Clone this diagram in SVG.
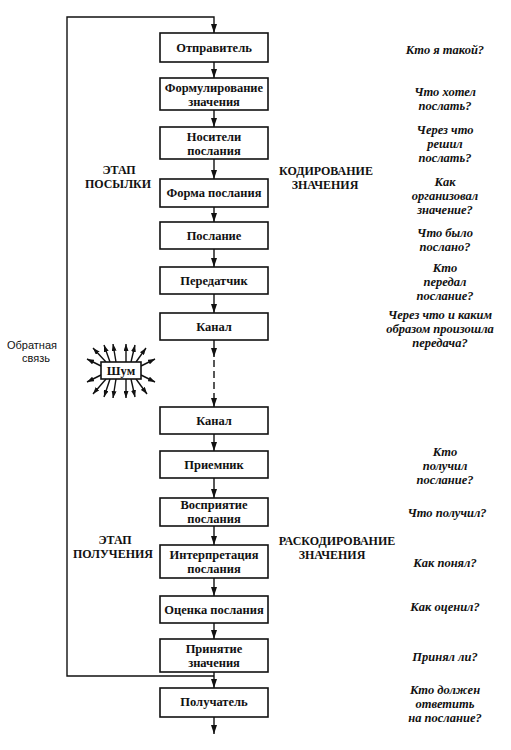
<svg xmlns="http://www.w3.org/2000/svg" width="511" height="750" viewBox="0 0 511 750">
<defs>
<style>
.box{fill:#fff;stroke:#111;stroke-width:1.6}
.ln{fill:none;stroke:#111;stroke-width:1.4}
.lbl{font-family:'Liberation Serif','Times New Roman','DejaVu Serif',serif;font-size:12.5px;font-weight:bold;text-anchor:middle;fill:#111}
.hd{font-family:'Liberation Serif','Times New Roman','DejaVu Serif',serif;font-size:12px;font-weight:bold;text-anchor:middle;fill:#111}
.q{font-family:'Liberation Serif','Times New Roman','DejaVu Serif',serif;font-size:12.5px;font-style:italic;font-weight:bold;text-anchor:middle;fill:#111}
.fb{font-family:'Liberation Sans',Arial,sans-serif;font-size:11px;text-anchor:middle;fill:#111}
</style>
<marker id="ah" viewBox="0 0 9 6" markerWidth="9" markerHeight="6" refX="9" refY="3" orient="auto" markerUnits="userSpaceOnUse"><path d="M0,0 L9,3 L0,6 z" fill="#111"/></marker>
<marker id="sh" viewBox="0 0 7 5" markerWidth="7" markerHeight="5" refX="7" refY="2.5" orient="auto" markerUnits="userSpaceOnUse"><path d="M0,0 L7,2.5 L0,5 z" fill="#111"/></marker>
</defs>

<g id="connectors">
<path class="ln" d="M214,676 L67,676 L67,17 L214,17 L214,33" marker-end="url(#ah)"/>
<line class="ln" x1="214" y1="62" x2="214" y2="78" marker-end="url(#ah)"/>
<line class="ln" x1="214" y1="110" x2="214" y2="127" marker-end="url(#ah)"/>
<line class="ln" x1="214" y1="159" x2="214" y2="179" marker-end="url(#ah)"/>
<line class="ln" x1="214" y1="207" x2="214" y2="222" marker-end="url(#ah)"/>
<line class="ln" x1="214" y1="249" x2="214" y2="267" marker-end="url(#ah)"/>
<line class="ln" x1="214" y1="294" x2="214" y2="313" marker-end="url(#ah)"/>
<line class="ln" x1="214" y1="340" x2="214" y2="357" marker-end="url(#ah)"/>
<line class="ln" x1="214" y1="360" x2="214" y2="407" stroke-dasharray="7,4" marker-end="url(#ah)"/>
<line class="ln" x1="214" y1="434" x2="214" y2="451" marker-end="url(#ah)"/>
<line class="ln" x1="214" y1="478" x2="214" y2="498" marker-end="url(#ah)"/>
<line class="ln" x1="214" y1="526" x2="214" y2="545" marker-end="url(#ah)"/>
<line class="ln" x1="214" y1="578" x2="214" y2="596" marker-end="url(#ah)"/>
<line class="ln" x1="214" y1="623" x2="214" y2="639" marker-end="url(#ah)"/>
<line class="ln" x1="214" y1="672" x2="214" y2="688" marker-end="url(#ah)"/>
<line class="ln" x1="214" y1="717" x2="214" y2="734" marker-end="url(#ah)"/>
</g>

<g id="n1"><rect class="box" x="160" y="33" width="108" height="29"/><text class="lbl" x="214" y="52">Отправитель</text></g>
<g id="n2"><rect class="box" x="160" y="78" width="108" height="32"/><text class="lbl" x="214" y="92">Формулирование</text><text class="lbl" x="214" y="106">значения</text></g>
<g id="n3"><rect class="box" x="160" y="127" width="108" height="32"/><text class="lbl" x="214" y="141">Носители</text><text class="lbl" x="214" y="155">послания</text></g>
<g id="n4"><rect class="box" x="160" y="179" width="108" height="28"/><text class="lbl" x="214" y="197">Форма послания</text></g>
<g id="n5"><rect class="box" x="160" y="222" width="108" height="27"/><text class="lbl" x="214" y="240">Послание</text></g>
<g id="n6"><rect class="box" x="160" y="267" width="108" height="27"/><text class="lbl" x="214" y="285">Передатчик</text></g>
<g id="n7"><rect class="box" x="160" y="313" width="108" height="27"/><text class="lbl" x="214" y="331">Канал</text></g>
<g id="n8"><rect class="box" x="160" y="407" width="108" height="27"/><text class="lbl" x="214" y="425">Канал</text></g>
<g id="n9"><rect class="box" x="160" y="451" width="108" height="27"/><text class="lbl" x="214" y="469">Приемник</text></g>
<g id="n10"><rect class="box" x="160" y="498" width="108" height="28"/><text class="lbl" x="214" y="509">Восприятие</text><text class="lbl" x="214" y="523">послания</text></g>
<g id="n11"><rect class="box" x="160" y="545" width="108" height="33"/><text class="lbl" x="214" y="559">Интерпретация</text><text class="lbl" x="214" y="573">послания</text></g>
<g id="n12"><rect class="box" x="160" y="596" width="108" height="27"/><text class="lbl" x="214" y="614">Оценка послания</text></g>
<g id="n13"><rect class="box" x="160" y="639" width="108" height="33"/><text class="lbl" x="214" y="653">Принятие</text><text class="lbl" x="214" y="667">значения</text></g>
<g id="n14"><rect class="box" x="160" y="688" width="108" height="29"/><text class="lbl" x="214" y="706">Получатель</text></g>

<g id="noise">
<g class="ln" stroke-width="1.2">
<line x1="106" y1="362" x2="93" y2="348" marker-end="url(#sh)"/>
<line x1="110" y1="362" x2="104" y2="345" marker-end="url(#sh)"/>
<line x1="116" y1="362" x2="113" y2="344" marker-end="url(#sh)"/>
<line x1="126" y1="362" x2="126" y2="344" marker-end="url(#sh)"/>
<line x1="131" y1="362" x2="135" y2="345" marker-end="url(#sh)"/>
<line x1="136" y1="362" x2="146" y2="348" marker-end="url(#sh)"/>
<line x1="101" y1="366" x2="87" y2="359" marker-end="url(#sh)"/>
<line x1="101" y1="375" x2="87" y2="382" marker-end="url(#sh)"/>
<line x1="141" y1="366" x2="155" y2="359" marker-end="url(#sh)"/>
<line x1="141" y1="375" x2="155" y2="382" marker-end="url(#sh)"/>
<line x1="106" y1="379" x2="93" y2="394" marker-end="url(#sh)"/>
<line x1="110" y1="379" x2="104" y2="397" marker-end="url(#sh)"/>
<line x1="116" y1="379" x2="113" y2="398" marker-end="url(#sh)"/>
<line x1="126" y1="379" x2="126" y2="398" marker-end="url(#sh)"/>
<line x1="131" y1="379" x2="135" y2="397" marker-end="url(#sh)"/>
<line x1="136" y1="379" x2="147" y2="394" marker-end="url(#sh)"/>
</g>
<rect class="box" x="101" y="362" width="40" height="17"/>
<text class="lbl" x="121" y="375">Шум</text>
</g>

<g id="labels">
<text class="fb" x="32" y="349">Обратная</text>
<text class="fb" x="36" y="362">связь</text>
<text class="hd" x="119" y="174">ЭТАП</text>
<text class="hd" x="118" y="188">ПОСЫЛКИ</text>
<text class="hd" x="326" y="175">КОДИРОВАНИЕ</text>
<text class="hd" x="325" y="189">ЗНАЧЕНИЯ</text>
<text class="hd" x="115" y="544">ЭТАП</text>
<text class="hd" x="113" y="558">ПОЛУЧЕНИЯ</text>
<text class="hd" x="337" y="545">РАСКОДИРОВАНИЕ</text>
<text class="hd" x="332" y="559">ЗНАЧЕНИЯ</text>
</g>

<g id="questions">
<text class="q" x="445" y="54">Кто я такой?</text>
<text class="q" x="445" y="96">Что хотел</text>
<text class="q" x="445" y="110">послать?</text>
<text class="q" x="445" y="134">Через что</text>
<text class="q" x="445" y="148">решил</text>
<text class="q" x="445" y="162">послать?</text>
<text class="q" x="445" y="186">Как</text>
<text class="q" x="445" y="200">организовал</text>
<text class="q" x="445" y="214">значение?</text>
<text class="q" x="445" y="237">Что было</text>
<text class="q" x="445" y="251">послано?</text>
<text class="q" x="445" y="272">Кто</text>
<text class="q" x="445" y="286">передал</text>
<text class="q" x="445" y="300">послание?</text>
<text class="q" x="440" y="319">Через что и каким</text>
<text class="q" x="440" y="333">образом произошла</text>
<text class="q" x="440" y="347">передача?</text>
<text class="q" x="445" y="456">Кто</text>
<text class="q" x="445" y="470">получил</text>
<text class="q" x="445" y="484">послание?</text>
<text class="q" x="447" y="517">Что получил?</text>
<text class="q" x="445" y="567">Как понял?</text>
<text class="q" x="445" y="611">Как оценил?</text>
<text class="q" x="445" y="661">Принял ли?</text>
<text class="q" x="445" y="694">Кто должен</text>
<text class="q" x="445" y="708">ответить</text>
<text class="q" x="445" y="722">на послание?</text>
</g>
</svg>
